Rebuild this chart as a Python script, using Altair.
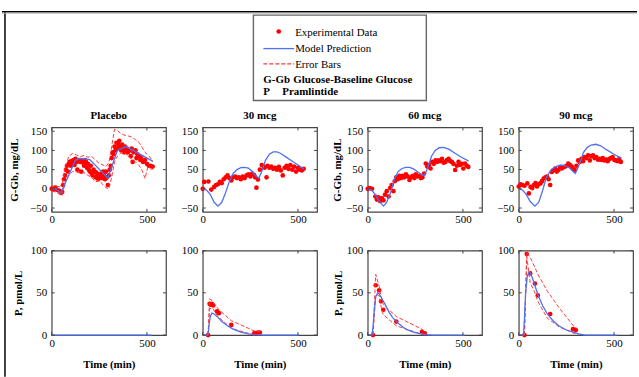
import altair as alt
import pandas as pd

# ---------------- data ----------------
panel_titles = ["Placebo", "30 mcg", "60 mcg", "90 mcg"]
legend_items = ["Experimental Data", "Model Prediction", "Error Bars"]
abbrevs = ["G-Gb", "P"]
meanings = ["Glucose-Baseline Glucose", "Pramlintide"]
glu_title = "G-Gb, mg/dL"
pram_title = "P, pmol/L"
time_title = "Time (min)"
x_ticks = [0, 500]
glu_ticks = [-50, 0, 50, 100, 150]
pram_ticks = [0, 50, 100]

# Glucose, placebo
plac_t = [0, 5, 10, 15, 20, 30, 40, 50, 55, 60, 65, 70, 75, 80, 85, 90, 95, 100, 105, 110,
          115, 120, 125, 130, 135, 140, 145, 150, 155, 160, 165, 170, 175, 180, 185, 190, 195,
          200, 205, 210, 215, 220, 225, 230, 235, 240, 245, 250, 255, 260, 265, 270, 275, 280,
          285, 290, 295, 300, 305, 310, 315, 320, 325, 330, 335, 340, 345, 350, 355, 360, 365,
          370, 375, 380, 385, 390, 395, 400, 410, 415, 420, 425, 430, 440, 445, 450, 460, 465,
          470, 480, 490, 500, 510, 520, 530]
plac_g = [0, 2, -2, 0, 3, -3, -5, -10, -8, 10, 25, 35, 50, 60, 45, 65, 70, 60, 72, 68,
          75, 62, 78, 70, 50, 72, 75, 70, 45, 72, 68, 60, 75, 70, 55, 65, 50,
          45, 60, 40, 35, 50, 45, 30, 42, 35, 25, 38, 30, 40, 28, 45, 35, 25,
          45, 30, 10, 35, 50, 60, 80, 95, 90, 110, 100, 120, 105, 115, 125, 110, 100,
          115, 105, 95, 110, 100, 105, 95, 100, 85, 105, 70, 95, 100, 80, 90, 85, 75,
          80, 70, 75, 65, 60, 60, 58]
plac_err_t = [0, 20, 40, 55, 70, 90, 110, 130, 150, 170, 190, 210, 230, 250, 270, 285, 300,
              315, 330, 345, 360, 380, 400, 420, 440, 460, 475, 490, 505, 520, 530]
plac_err_hi = [6, 8, 5, 12, 55, 85, 92, 88, 84, 87, 82, 84, 75, 66, 62, 58, 68,
               110, 155, 152, 145, 140, 138, 135, 128, 120, 108, 95, 88, 80, 70]
plac_err_lo = [-6, -8, -14, -18, 15, 35, 45, 44, 40, 42, 35, 30, 18, 22, 10, 3, 0,
               30, 70, 85, 92, 96, 85, 78, 70, 60, 48, 27, 58, 52, 50]
plac_mod_t = [0, 20, 48, 125, 150, 200, 295, 345, 390, 530]
plac_mod_g = [0, 0, -11, 75, 79, 76, 28, 100, 110, 72]

# Glucose, 30 mcg
d30_t = [0, 8, 30, 45, 60, 70, 80, 90, 100, 110, 120, 130, 140, 150, 160, 170, 180, 190, 200,
         210, 220, 230, 240, 250, 260, 270, 275, 282, 290, 300, 310, 320, 325, 335, 340, 350,
         360, 370, 380, 390, 400, 410, 420, 430, 440, 450, 460, 470, 480, 490, 500, 510, 520, 530]
d30_g = [0, 18, 19, -2, 5, 10, 12, 18, 15, 25, 30, 35, 28, 22, 30, 32, 28, 30, 25,
         32, 28, 35, 38, 32, 40, 36, 30, 3, 24, 50, 62, 58, 55, 30, 60, 55,
         58, 52, 55, 50, 57, 48, 35, 55, 60, 52, 62, 50, 58, 45, 55, 50, 48, 52]
m30_t = [0, 20, 40, 60, 80, 100, 120, 140, 160, 180, 200, 220, 240, 260, 280, 295, 310, 330,
         350, 370, 390, 410, 440, 470, 500, 530]
m30_g = [0, -3, -15, -35, -45, -35, -10, 20, 40, 50, 55, 56, 54, 45, 33, 28, 45, 75,
         90, 96, 96, 92, 82, 72, 62, 52]

# Glucose, 60 mcg
d60_t = [0, 10, 23, 40, 48, 55, 65, 74, 83, 91, 100, 110, 118, 126, 135, 142, 150, 158, 167,
         175, 184, 192, 201, 210, 219, 228, 236, 245, 253, 262, 270, 279, 287, 296, 305, 313,
         322, 330, 339, 347, 356, 364, 373, 381, 390, 399, 408, 416, 425, 433, 442, 450, 459,
         468, 477, 485, 494, 502, 511, 520, 528]
d60_g = [0, 2, 0, -20, -28, -22, -32, -24, -30, -15, -6, -20, 2, 10, -6, 20, 30, 25, 34,
         28, 34, 30, 38, 32, 23, 30, 34, 28, 38, 32, 34, 28, 30, 40, 66, 58,
         62, 53, 70, 65, 74, 70, 74, 72, 78, 68, 70, 75, 78, 72, 70, 65, 49,
         60, 70, 62, 65, 53, 66, 60, 57]
m60_t = [0, 20, 40, 60, 83, 100, 120, 140, 160, 180, 200, 220, 240, 260, 280, 298, 315, 335,
         355, 375, 400, 430, 460, 490, 530]
m60_g = [0, -3, -15, -32, -45, -35, -10, 25, 45, 53, 56, 56, 52, 45, 38, 35, 55, 85,
         100, 107, 108, 102, 92, 83, 72]

# Glucose, 90 mcg
d90_t = [0, 10, 19, 30, 45, 53, 62, 71, 79, 88, 96, 105, 114, 122, 131, 140, 148, 157, 165,
         174, 182, 191, 200, 208, 217, 226, 234, 243, 252, 260, 269, 278, 286, 295, 303, 312,
         320, 329, 338, 346, 355, 364, 373, 381, 390, 398, 407, 416, 424, 433, 441, 450, 459,
         467, 476, 485, 493, 502, 510, 519, 528, 536]
d90_g = [6, 12, 10, 8, 14, -12, 5, 2, 10, 15, 6, 12, 14, 20, 27, 30, 32, 25, 10,
         44, 48, 53, 45, 49, 55, 53, 56, 58, 60, 66, 62, 58, 53, 49, 60, 74,
         70, 78, 72, 83, 80, 87, 74, 85, 87, 80, 83, 76, 78, 75, 80, 74, 76,
         72, 78, 80, 83, 75, 74, 72, 78, 70]
m90_t = [0, 20, 40, 60, 85, 105, 125, 145, 170, 195, 220, 245, 265, 285, 297, 315, 340, 360,
         380, 405, 430, 460, 500, 536]
m90_g = [0, -3, -15, -33, -45, -35, -5, 30, 50, 58, 62, 60, 55, 45, 40, 60, 95, 108,
         114, 116, 112, 102, 90, 80]

# Pramlintide, placebo (model only)
p0_mod_t = [0, 525]
p0_mod_p = [0, 0]

# Pramlintide, 30 mcg
p30_t = [28, 36, 42, 48, 55, 75, 85, 150, 270, 280, 290, 300]
p30_p = [0, 37, 36, 37, 35, 28, 26, 12, 2, 2, 3, 3]
p30_err_t = [28, 36, 48, 55, 75, 85, 150, 270, 300]
p30_err_hi = [0, 43, 41, 39, 33, 30, 17, 5, 4]
p30_err_lo = [0, 31, 32, 31, 23, 21, 8, 0, 1]
p30_mod_t = [0, 25, 30, 35, 40, 48, 60, 80, 100, 130, 160, 200, 240, 280, 320, 505]
p30_mod_p = [0, 0, 5, 15, 22, 26, 25, 21, 16, 11, 7, 3.5, 1.5, 0.5, 0, 0]

# Pramlintide, 60 mcg
p60_t = [28, 42, 60, 70, 82, 150, 285, 300]
p60_p = [0, 59, 53, 40, 30, 16, 4, 2]
p60_err_t = [28, 42, 60, 70, 82, 150, 285, 300]
p60_err_hi = [0, 72, 58, 46, 36, 22, 7, 4]
p60_err_lo = [0, 48, 47, 34, 24, 11, 1, 0]
p60_mod_t = [0, 22, 28, 35, 42, 52, 60, 75, 90, 110, 130, 160, 200, 240, 280, 310, 340, 510]
p60_mod_p = [0, 0, 10, 30, 45, 50, 49, 43, 37, 28, 21, 14, 7, 3.5, 1.5, 0.5, 0, 0]

# Pramlintide, 90 mcg
p90_t = [30, 42, 60, 85, 100, 165, 285, 300]
p90_p = [0, 96, 73, 61, 47, 25, 7, 6]
p90_err_t = [30, 42, 60, 85, 100, 150, 210, 290, 305]
p90_err_hi = [0, 98, 92, 80, 72, 52, 33, 10, 8]
p90_err_lo = [0, 93, 62, 50, 40, 20, 10, 2, 2]
p90_mod_t = [0, 25, 30, 36, 45, 55, 65, 80, 100, 125, 150, 180, 210, 250, 280, 320, 350, 515]
p90_mod_p = [0, 0, 20, 50, 70, 75, 72, 62, 48, 35, 25, 17, 11, 6, 4, 1, 0, 0]

# ---------------- styling ----------------
SERIF = "Liberation Serif, Times New Roman, serif"
BLUE = "#4f70f2"
RED = "#ff0000"
ERR = "#ff3b3b"
BOX = "#444444"
W, H = 115, 85
TK = 3
XDOM = [0, 600]
GLU_DOM = [-60, 160]
PRAM_DOM = [0, 100]
OX = 50               # window x of the first plot's left edge (common origin)
LEG_W, LEG_H = 639 - OX, 107

dummy = pd.DataFrame({"k": [0]})


def panel(pt_t, pt_v, mo_t, mo_v, ydom, yticks, title=None, ytitle=None, ytp=0,
          xtitle=None, err=None):
    xaxis = alt.Axis(values=x_ticks, title=xtitle, labelPadding=2, titlePadding=11,
                     labelFlush=False)
    yaxis = alt.Axis(values=yticks, title=ytitle, titlePadding=ytp, labelPadding=5)
    xe = alt.X("t:Q", scale=alt.Scale(domain=XDOM, nice=False, zero=False), axis=xaxis)
    ye = alt.Y("v:Q", scale=alt.Scale(domain=ydom, nice=False, zero=False), axis=yaxis)
    layers = []
    if pt_t:
        layers.append(alt.Chart(pd.DataFrame({"t": pt_t, "v": pt_v}))
                      .mark_circle(color=RED, size=22, opacity=1)
                      .encode(x=xe, y=ye))
    if err is not None:
        et, hi, lo = err
        for arr in (hi, lo):
            layers.append(alt.Chart(pd.DataFrame({"t": et, "v": arr}))
                          .mark_line(color=ERR, strokeWidth=1, strokeDash=[4, 2])
                          .encode(x=xe, y=ye))
    layers.append(alt.Chart(pd.DataFrame({"t": mo_t, "v": mo_v}))
                  .mark_line(color=BLUE, strokeWidth=1.3)
                  .encode(x=xe, y=ye))
    # inward tick marks on all four sides of the box
    xt = alt.Chart(pd.DataFrame({"t": x_ticks})).mark_rule(color=BOX, strokeWidth=1)
    yt = alt.Chart(pd.DataFrame({"v": yticks})).mark_rule(color=BOX, strokeWidth=1)
    layers += [
        xt.encode(x=xe, y=alt.value(0), y2=alt.value(TK)),
        xt.encode(x=xe, y=alt.value(H - TK), y2=alt.value(H)),
        yt.encode(y=ye, x=alt.value(0), x2=alt.value(TK)),
        yt.encode(y=ye, x=alt.value(W - TK), x2=alt.value(W)),
    ]
    ch = alt.layer(*layers).properties(width=W, height=H)
    if title:
        ch = ch.properties(title=alt.TitleParams(text=title, offset=-7, baseline="bottom"))
    return ch


# ---------------- figure frame (left line), flush-positioned ----------------
fb = alt.Chart(dummy)
frame_chart = fb.mark_rule(color="black", strokeWidth=1.5).encode(
    x=alt.value(3), y=alt.value(9), y2=alt.value(377)
).properties(width=1, height=LEG_H, view=alt.ViewBackground(stroke="transparent"))

# ---------------- legend (positions relative to OX) ----------------
lb = alt.Chart(dummy)
legend_layers = [
    lb.mark_rule(color="black", strokeWidth=1.6).encode(
        x=alt.value(-OX), x2=alt.value(LEG_W), y=alt.value(9.6)),
    lb.mark_rule(color="#b5b5b5", strokeWidth=1).encode(
        x=alt.value(-OX), x2=alt.value(LEG_W), y=alt.value(11.1)),
    lb.mark_rect(fill="white", stroke="#666666", strokeWidth=1.4).encode(
        x=alt.value(253 - OX), x2=alt.value(427 - OX), y=alt.value(13), y2=alt.value(99)),
    lb.mark_circle(color=RED, size=22, opacity=1).encode(
        x=alt.value(278.5 - OX), y=alt.value(29.5)),
    lb.mark_rule(color=BLUE, strokeWidth=1.3).encode(
        x=alt.value(263 - OX), x2=alt.value(294 - OX), y=alt.value(46.7)),
    lb.mark_rule(color=ERR, strokeWidth=1.2, strokeDash=[4, 2]).encode(
        x=alt.value(263 - OX), x2=alt.value(294 - OX), y=alt.value(62)),
]
leg_text_y = [31, 47.5, 63]
for txt, yy in zip(legend_items, leg_text_y):
    legend_layers.append(lb.mark_text(font=SERIF, fontSize=11, align="left", baseline="middle",
                                      color="black", text=txt)
                         .encode(x=alt.value(295 - OX), y=alt.value(yy)))
abbr_y = [78, 90.5]
abbr_x2 = [293, 282]
for ab, mean, yy, xx in zip(abbrevs, meanings, abbr_y, abbr_x2):
    legend_layers.append(lb.mark_text(font=SERIF, fontSize=11, fontWeight="bold", align="left",
                                      baseline="middle", color="black", text=ab)
                         .encode(x=alt.value(263 - OX), y=alt.value(yy)))
    legend_layers.append(lb.mark_text(font=SERIF, fontSize=11, fontWeight="bold", align="left",
                                      baseline="middle", color="black", text=mean)
                         .encode(x=alt.value(xx - OX), y=alt.value(yy)))
legend = alt.layer(*legend_layers).properties(
    width=LEG_W, height=LEG_H, view=alt.ViewBackground(stroke="transparent"))

# ---------------- panels ----------------
SP = 12
row1 = alt.hconcat(
    panel(plac_t, plac_g, plac_mod_t, plac_mod_g, GLU_DOM, glu_ticks, title=panel_titles[0],
          ytitle=glu_title, ytp=10, err=(plac_err_t, plac_err_hi, plac_err_lo)),
    panel(d30_t, d30_g, m30_t, m30_g, GLU_DOM, glu_ticks, title=panel_titles[1]),
    panel(d60_t, d60_g, m60_t, m60_g, GLU_DOM, glu_ticks, title=panel_titles[2],
          ytitle=glu_title, ytp=3),
    panel(d90_t, d90_g, m90_t, m90_g, GLU_DOM, glu_ticks, title=panel_titles[3]),
    spacing=SP,
)
row2 = alt.hconcat(
    panel([], [], p0_mod_t, p0_mod_p, PRAM_DOM, pram_ticks, ytitle=pram_title, ytp=7,
          xtitle=time_title),
    panel(p30_t, p30_p, p30_mod_t, p30_mod_p, PRAM_DOM, pram_ticks, xtitle=time_title,
          err=(p30_err_t, p30_err_hi, p30_err_lo)),
    panel(p60_t, p60_p, p60_mod_t, p60_mod_p, PRAM_DOM, pram_ticks, ytitle=pram_title, ytp=3,
          xtitle=time_title, err=(p60_err_t, p60_err_hi, p60_err_lo)),
    panel(p90_t, p90_p, p90_mod_t, p90_mod_p, PRAM_DOM, pram_ticks, xtitle=time_title,
          err=(p90_err_t, p90_err_hi, p90_err_lo)),
    spacing=SP,
)

panels = alt.vconcat(row1, row2, spacing=18)
right_part = alt.vconcat(legend, panels, spacing=0)

chart = alt.hconcat(frame_chart, right_part, spacing=OX - 1, bounds="flush").properties(
    padding={"left": 0, "top": 0, "right": 0, "bottom": 0},
    background="white",
).configure_axis(
    labelFont=SERIF, labelFontSize=11, labelColor="black",
    titleFont=SERIF, titleFontSize=11, titleFontWeight="bold", titleColor="black",
    domain=False, ticks=False, grid=False,
).configure_view(
    stroke=BOX, strokeWidth=1.2,
).configure_title(
    font=SERIF, fontSize=11, fontWeight="bold", color="black", anchor="middle",
)

chart.save("out.html", embed_options={"renderer": "svg", "actions": False})
